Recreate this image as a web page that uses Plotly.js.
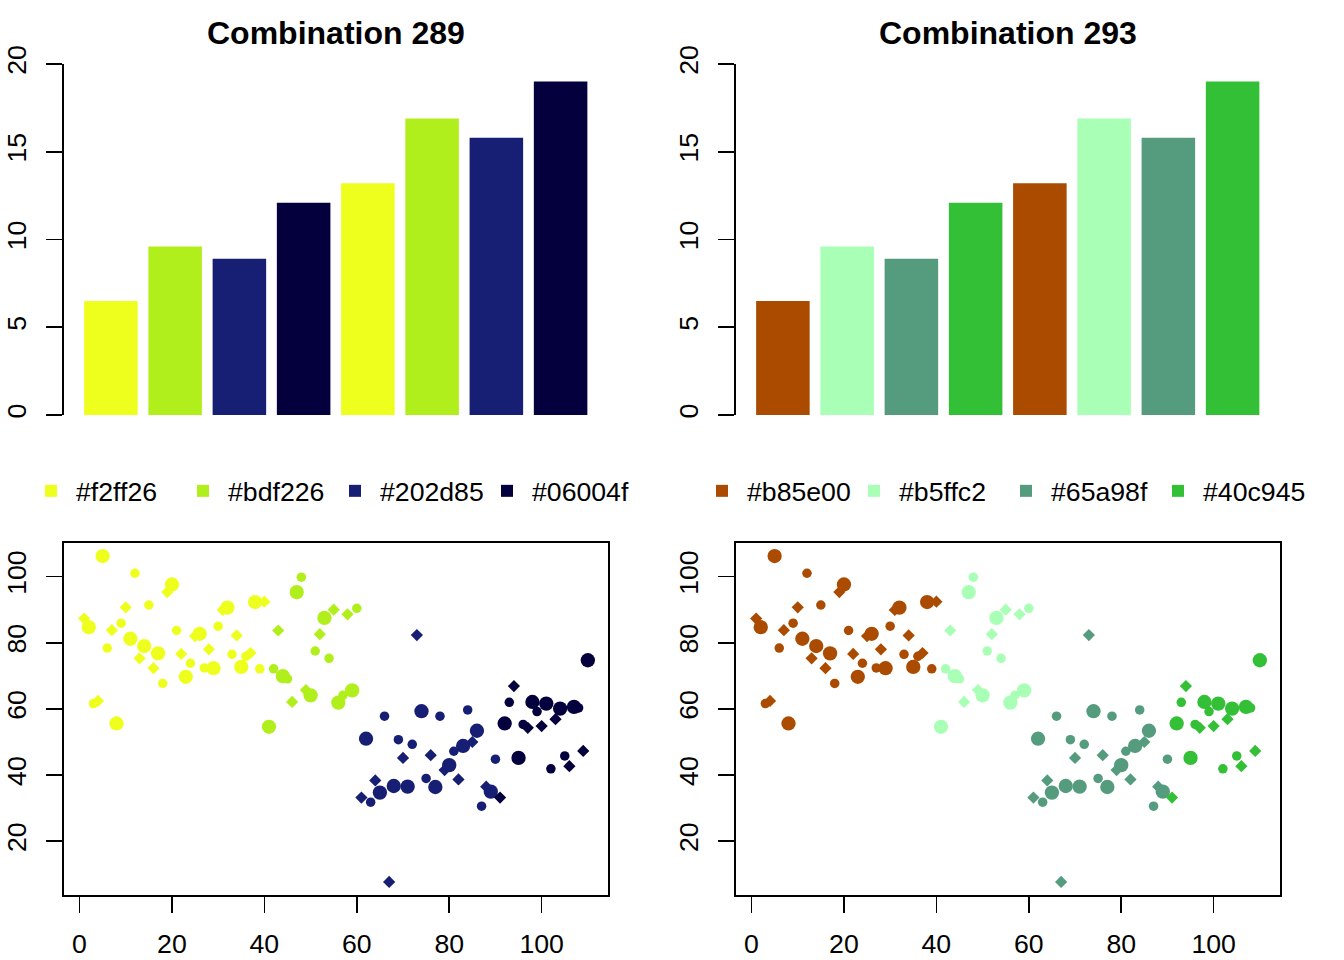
<!DOCTYPE html>
<html><head><meta charset="utf-8">
<script src="https://cdn.plot.ly/plotly-3.0.1.min.js"></script>
<style>html,body{margin:0;padding:0;background:#fff}#chart{width:1344px;height:960px}</style>
</head><body><div id="chart"></div>
<script>
// ---- data ----
const barValues = [6.5, 9.6, 8.9, 12.1, 13.2, 16.9, 15.8, 19.0];
// colour names as printed in the legends
const paletteA = ['#f2ff26', '#bdf226', '#202d85', '#06004f'];
const paletteB = ['#b85e00', '#b5ffc2', '#65a98f', '#40c945'];
// fill colours as they appear in the picture
const fillA = ['#eeff1e', '#b1ef1c', '#161f73', '#04003e'];
const fillB = ['#aa4b00', '#a9ffb5', '#559b7e', '#33c037'];
const titleA = 'Combination 289';
const titleB = 'Combination 293';
const scatterX = [1,2,3,4,5,6,7,8,9,10,11,12,13,14,15,16,17,18,19,20,
  21,22,23,24,25,26,27,28,29,30,31,32,33,34,35,36,37,38,39,40,
  41,42,43,44,45,46,47,48,49,50,51,52,53,54,55,56,57,58,59,60,
  61,62,63,64,65,66,67,68,69,70,71,72,73,74,75,76,77,78,79,80,
  81,82,83,84,85,86,87,88,89,90,91,92,93,94,95,96,97,98,99,100,
  101,102,103,104,105,106,107,108,109,110];
const scatterY = [87.3,84.7,61.6,62.4,106.2,78.4,83.8,55.6,85.9,90.7,
  81.2,101.0,75.3,79.0,91.4,72.3,76.8,67.7,95.3,97.6,
  83.7,76.6,69.7,73.8,82.0,82.7,72.4,78.0,72.3,85.0,
  89.9,90.6,76.5,82.2,72.7,75.9,76.9,92.3,72.1,92.4,
  54.6,72.1,83.7,69.9,69.1,62.1,95.3,99.8,65.7,64.1,
  77.5,82.6,87.5,75.3,90.0,61.9,64.1,88.6,65.6,90.4,
  33.2,51.0,31.8,38.4,34.7,57.8,7.7,36.7,50.7,45.2,
  36.5,49.3,82.3,59.3,39.0,46.0,36.4,57.8,41.5,43.0,
  47.2,38.7,48.8,59.7,50.0,53.4,30.6,36.5,35.0,44.8,
  33.2,55.6,62.0,66.9,45.2,55.3,54.3,62.1,59.2,54.8,
  61.6,41.9,56.9,60.1,45.8,42.7,60.6,60.3,47.3,74.7];
const groupSizes = [40, 20, 30, 20];
const barTicks = [0, 5, 10, 15, 20];
const scatterXTicks = [0, 20, 40, 60, 80, 100];
const scatterYTicks = [20, 40, 60, 80, 100];

// ---- layout helpers ----
const W = 1344, H = 960;
const fx = p => p / W;
const fy = p => 1 - p / H;
const FONT = 'Liberation Sans, Arial, Helvetica, sans-serif';
const FS = 26.67;
const LW = 1.7;

function extend(lo, hi) { const d = (hi - lo) * 0.04; return [lo - d, hi + d]; }

const traces = [];
function addPanel(names, fills, k, legendId) {
  const xb = 'x' + (k === 0 ? '' : (k + 1));
  const yb = 'y' + (k === 0 ? '' : (k + 1));
  const xs = 'x' + (k + 3), ys = 'y' + (k + 3);
  const nColors = names.length;
  for (let g = 0; g < nColors; g++) {
    const bx = [], by = [];
    for (let i = g; i < barValues.length; i += nColors) { bx.push(i); by.push(barValues[i]); }
    traces.push({type: 'bar', x: bx, y: by, width: 1 / 1.2, xaxis: xb, yaxis: yb,
      marker: {color: fills[g], line: {width: 0}}, name: names[g], legend: legendId,
      showlegend: true, hoverinfo: 'skip'});
  }
  let start = 0;
  groupSizes.forEach((n, g) => {
    const sym = [], size = [];
    for (let j = 0; j < n; j++) {
      const m = (start + j) % 3;
      sym.push(m === 0 ? 'diamond' : 'circle');
      size.push(m === 0 ? 9.4 : (m === 1 ? 14.3 : 9.5));
    }
    traces.push({type: 'scatter', mode: 'markers', x: scatterX.slice(start, start + n),
      y: scatterY.slice(start, start + n), xaxis: xs, yaxis: ys,
      marker: {color: fills[g], symbol: sym, size: size, opacity: 1, line: {width: 0}},
      showlegend: false, hoverinfo: 'skip'});
    start += n;
  });
}
addPanel(paletteA, fillA, 0, 'legend');
addPanel(paletteB, fillB, 1, 'legend2');

const xr = extend(Math.min(...scatterX), Math.max(...scatterX));
const yr = extend(Math.min(...scatterY), Math.max(...scatterY));

const tickfont = {family: FONT, size: FS, color: '#000'};
function barY(anchor) {
  return {anchor: anchor, domain: [fy(415), fy(64)], range: [0, 20], tickvals: barTicks,
    ticks: 'outside', ticklen: 16, tickwidth: LW, tickcolor: '#000', showline: true,
    linewidth: LW, linecolor: '#000', tickangle: -90, tickfont: tickfont, showgrid: false,
    zeroline: false, ticklabelstandoff: 10};
}
function barX(anchor, off) {
  return {anchor: anchor, domain: [fx(64 + off), fx(607.5 + off)], range: [-0.73, 7.73],
    visible: false, showgrid: false, zeroline: false};
}
function scX(anchor, off) {
  return {anchor: anchor, domain: [fx(64 + off), fx(608 + off)], range: xr, tickvals: scatterXTicks,
    ticks: 'outside', ticklen: 16, tickwidth: LW, tickcolor: '#000', showline: true, mirror: true,
    linewidth: LW, linecolor: '#000', tickfont: tickfont, showgrid: false, zeroline: false,
    ticklabelstandoff: 8};
}
function scY(anchor) {
  return {anchor: anchor, domain: [fy(895), fy(543)], range: yr, tickvals: scatterYTicks,
    ticks: 'outside', ticklen: 16, tickwidth: LW, tickcolor: '#000', showline: true, mirror: true,
    linewidth: LW, linecolor: '#000', tickangle: -90, tickfont: tickfont, showgrid: false,
    zeroline: false, ticklabelstandoff: 10};
}
function legendAt(px) {
  return {orientation: 'h', x: fx(px), xanchor: 'left', y: fy(491), yanchor: 'middle',
    font: {family: FONT, size: FS, color: '#000'}, entrywidth: 97, entrywidthmode: 'pixels',
    itemwidth: 40, bgcolor: 'rgba(0,0,0,0)', traceorder: 'normal', itemclick: false, itemdoubleclick: false};
}

const layout = {
  width: W, height: H, margin: {l: 0, r: 0, t: 0, b: 0},
  paper_bgcolor: '#fff', plot_bgcolor: '#fff', barmode: 'overlay', showlegend: true,
  xaxis: barX('y', 0), yaxis: barY('x'),
  xaxis2: barX('y2', 672), yaxis2: barY('x2'),
  xaxis3: scX('y3', 0), yaxis3: scY('x3'),
  xaxis4: scX('y4', 672), yaxis4: scY('x4'),
  legend: legendAt(26), legend2: legendAt(697),
  annotations: [
    {text: titleA, xref: 'paper', yref: 'paper', x: fx(335.75), y: fy(33), xanchor: 'center',
     yanchor: 'middle', showarrow: false, font: {family: FONT, size: 32, color: '#000', weight: 'bold'}},
    {text: titleB, xref: 'paper', yref: 'paper', x: fx(1007.75), y: fy(33), xanchor: 'center',
     yanchor: 'middle', showarrow: false, font: {family: FONT, size: 32, color: '#000', weight: 'bold'}}
  ]
};
Plotly.newPlot('chart', traces, layout, {displayModeBar: false, staticPlot: true});
</script>
</body></html>
